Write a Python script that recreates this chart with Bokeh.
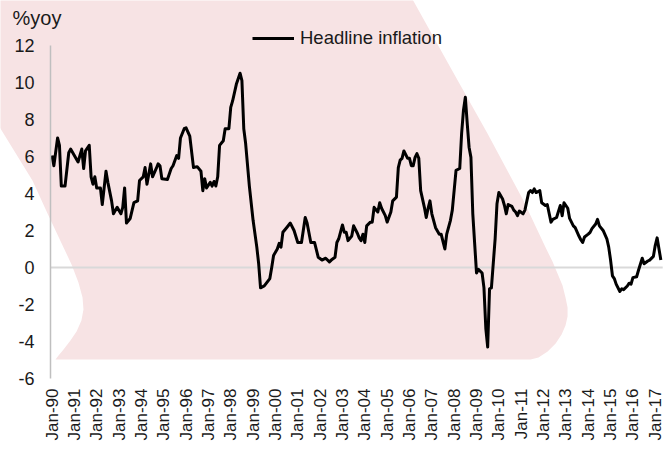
import math
from bokeh.plotting import figure
from bokeh.models import (Range1d, FixedTicker, Label, Legend, LegendItem, ColumnDataSource)
from bokeh.embed import file_html
from bokeh.resources import INLINE

# ---- data (months counted from Jan-1990) ----
months = [0, 1, 3, 4, 5, 7, 9, 10, 14, 16, 17, 18, 20, 21, 22, 23, 24, 26, 27, 29,
          30, 32, 33, 35, 37, 38, 39, 40, 42, 44, 46, 47, 49, 50, 51, 53, 54, 56, 57, 58,
          59, 62, 64, 65, 67, 68, 69, 71, 72, 74, 76, 78, 80, 81, 82, 83, 85, 86, 87, 88,
          89, 90, 92, 93, 95, 96, 97, 99, 101, 102, 103, 104, 106, 108, 110, 111, 112, 114, 117, 118,
          119, 121, 122, 123, 124, 126, 128, 130, 132, 133, 134, 136, 137, 139, 141, 143, 145, 147, 149, 150,
          152, 153, 154, 156, 157, 158, 159, 161, 162, 164, 165, 166, 167, 168, 169, 171, 172, 173, 175, 176,
          177, 179, 180, 182, 183, 185, 186, 187, 188, 189, 191, 192, 193, 194, 195, 196, 197, 198, 200, 201,
          202, 203, 204, 206, 208, 209, 211, 212, 214, 215, 217, 219, 220, 221, 222, 223, 224, 225, 226, 228,
          229, 231, 232, 233, 234, 235, 236, 238, 239, 240, 242, 243, 244, 245, 247, 248, 249, 250, 251, 253,
          254, 256, 257, 258, 259, 260, 262, 263, 265, 266, 268, 269, 271, 273, 274, 275, 277, 278, 280, 281,
          283, 284, 285, 286, 288, 289, 290, 292, 293, 294, 296, 298, 299, 300, 301, 302, 303, 305, 306, 307,
          309, 310, 311, 312, 314, 315, 317, 318, 320, 321, 323, 324, 325, 326, 327]
inflation = [6.05, 5.5, 7.0, 6.6, 4.4, 4.4, 6.2, 6.4, 5.7, 6.4, 5.35, 6.3, 6.6, 4.9, 4.5, 4.9, 4.3, 4.3, 3.4, 5.2,
             4.6, 3.6, 2.9, 3.25, 2.9, 3.25, 4.3, 2.4, 2.65, 3.5, 3.6, 4.7, 4.9, 5.4, 4.5, 5.6, 4.9, 5.35, 5.6, 5.5,
             4.8, 4.75, 5.35, 5.5, 6.05, 5.9, 7.0, 7.5, 7.55, 7.1, 5.4, 5.45, 5.2, 4.15, 4.8, 4.3, 4.6, 4.4, 4.65, 4.4,
             4.9, 6.6, 6.85, 7.5, 7.5, 8.65, 9.0, 9.9, 10.5, 10.1, 7.5, 6.7, 4.4, 2.55, 1.1, 0.2, -1.1, -1.0, -0.6, 0.0,
             0.65, 1.0, 1.3, 1.1, 1.9, 2.15, 2.4, 2.0, 1.35, 1.35, 1.35, 2.7, 2.4, 1.35, 1.35, 0.55, 0.4, 0.5, 0.3, 0.4,
             0.55, 1.35, 1.55, 2.3, 1.9, 1.9, 1.45, 1.7, 2.25, 1.85, 1.6, 1.45, 1.8, 1.35, 2.25, 2.45, 2.45, 3.25, 3.0, 3.5,
             3.2, 2.8, 2.45, 3.0, 3.6, 3.8, 5.4, 5.8, 5.9, 6.3, 5.9, 5.9, 5.5, 5.5, 5.95, 6.15, 5.9, 4.15, 3.25, 2.7,
             3.2, 3.6, 2.9, 2.15, 1.8, 1.8, 1.0, 1.8, 2.55, 3.1, 5.25, 5.35, 7.25, 8.5, 9.2, 7.8, 6.5, 5.95, 2.9, -0.3,
             -0.1, -0.3, -1.1, -3.3, -4.3, -1.15, -1.1, 1.55, 3.45, 4.05, 3.7, 3.35, 2.9, 3.4, 3.3, 3.1, 3.0, 2.8, 3.05, 2.9,
             3.1, 4.05, 4.15, 4.05, 4.25, 4.05, 4.15, 3.5, 3.35, 3.4, 2.45, 2.6, 2.7, 3.35, 2.8, 3.5, 3.2, 2.65, 2.25, 2.15,
             1.7, 1.5, 1.35, 1.65, 1.8, 1.9, 2.1, 2.35, 2.6, 2.25, 2.0, 1.55, 1.1, 0.4, -0.45, -0.6, -0.9, -1.3, -1.15, -1.2,
             -1.0, -0.85, -0.9, -0.55, -0.5, -0.15, 0.5, 0.2, 0.35, 0.4, 0.6, 1.2, 1.6, 1.0, 0.4]

x_tick_months = [0, 12, 24, 36, 48, 60, 72, 84, 96, 108, 120, 132, 144, 156, 168, 180, 192, 204,
                 216, 228, 240, 252, 264, 276, 288, 300, 312, 324]
x_tick_labels = ["Jan-90", "Jan-91", "Jan-92", "Jan-93", "Jan-94", "Jan-95", "Jan-96", "Jan-97",
                 "Jan-98", "Jan-99", "Jan-00", "Jan-01", "Jan-02", "Jan-03", "Jan-04", "Jan-05",
                 "Jan-06", "Jan-07", "Jan-08", "Jan-09", "Jan-10", "Jan-11", "Jan-12", "Jan-13",
                 "Jan-14", "Jan-15", "Jan-16", "Jan-17"]
y_ticks = [-6, -4, -2, 0, 2, 4, 6, 8, 10, 12]
y_tick_labels = ["-6", "-4", "-2", "0", "2", "4", "6", "8", "10", "12"]
series_name = "Headline inflation"
unit_label = "%yoy"

# decorative background shape outline (in month / % units)
shape_x = [-33.0, 191.0, 214.0, 233.9, 253.2, 265.1, 268.8, 271.5, 274.2, 275.8, 276.9, 276.9,
           275.8, 273.7, 270.5, 266.2, 261.3, 257.0,
           1.9, 3.5, 6.2, 9.9, 13.2, 15.8, 16.9, 16.4, 14.2, 10.5, 6.2, -2.4, -10.5, -27.7, -33.0]
shape_y = [14.97, 14.97, 10.81, 7.24, 3.62, 1.08, 0.32, -0.32, -0.97, -1.62, -2.16, -2.65,
           -3.14, -3.62, -4.11, -4.54, -4.86, -4.97,
           -4.97, -4.76, -4.43, -3.95, -3.46, -2.86, -2.27, -1.62, -0.81, 0.16, 1.08, 2.92, 4.70, 7.51, 8.49]

FONT = "Liberation Sans"
TXT = "#1a1a1a"
Y_AXIS_AT = -0.8     # month position of the vertical axis line
X_START, X_END = -27.66, 329.5
Y_START, Y_END = -6.38, 14.43

p = figure(width=665, height=449, output_backend="svg", toolbar_location=None,
           x_range=Range1d(X_START, X_END), y_range=Range1d(Y_START, Y_END),
           min_border_left=0, min_border_top=0, min_border_right=0, min_border_bottom=64)
p.background_fill_color = "white"
p.border_fill_color = "white"
p.outline_line_color = None
p.xgrid.visible = False
p.ygrid.visible = False

p.patch(shape_x, shape_y, fill_color="#F7E3E4", line_color=None)
p.segment(x0=[Y_AXIS_AT], y0=[0], x1=[months[-1] + 1], y1=[0], line_color="#D9D9D9", line_width=2)

src = ColumnDataSource(dict(month=months, inflation=inflation))
r = p.line(x="month", y="inflation", source=src, line_color="black", line_width=3,
           line_join="round")

# axes
xa = p.xaxis[0]
xa.ticker = FixedTicker(ticks=x_tick_months)
xa.major_label_overrides = {m: l for m, l in zip(x_tick_months, x_tick_labels)}
xa.major_label_orientation = math.pi / 2
xa.axis_line_color = None
xa.major_tick_line_color = None
xa.minor_tick_line_color = None
xa.major_tick_out = 0
xa.major_tick_in = 0
xa.major_label_standoff = 3
xa.major_label_text_font = FONT
xa.major_label_text_font_size = "17px"
xa.major_label_text_color = TXT

ya = p.yaxis[0]
ya.ticker = FixedTicker(ticks=y_ticks)
ya.major_label_overrides = {t: l for t, l in zip(y_ticks, y_tick_labels)}
ya.fixed_location = Y_AXIS_AT
ya.bounds = (-6, 12)
ya.axis_line_color = "#BFBFBF"
ya.axis_line_width = 1.5
ya.major_tick_line_color = None
ya.minor_tick_line_color = None
ya.major_tick_out = 0
ya.major_tick_in = 0
ya.major_label_standoff = 16
ya.major_label_text_font = FONT
ya.major_label_text_font_size = "18px"
ya.major_label_text_color = TXT

p.add_layout(Label(x=-21.2, y=13.51, text=unit_label, text_align="left", text_baseline="middle",
                   text_font=FONT, text_font_size="20px", text_color=TXT))

legend = Legend(items=[LegendItem(label=series_name, renderers=[r])], location=(252, 336),
                orientation="horizontal", padding=0, margin=0, spacing=0,
                background_fill_alpha=0, border_line_color=None,
                label_text_font=FONT, label_text_font_size="18.5px", label_text_color=TXT,
                glyph_width=42, glyph_height=20, label_height=20, label_standoff=6)
p.add_layout(legend)

open("out.html", "w").write(file_html(p, INLINE))
